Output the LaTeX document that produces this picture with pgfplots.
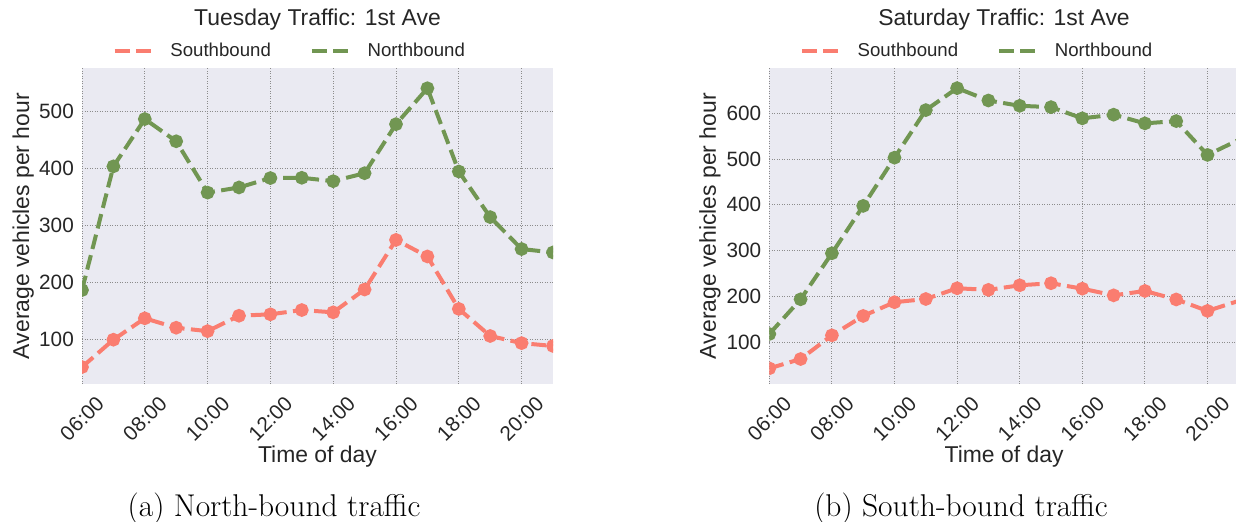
\documentclass[border=0pt]{standalone}
\usepackage{graphicx}
\usepackage{pgfplots}
\pgfplotsset{compat=1.18}
\usepackage{fontspec}
\newfontfamily\arial{Liberation Sans}
\definecolor{sred}{RGB}{250,125,112}
\definecolor{sgreen}{RGB}{113,150,82}
\definecolor{bg}{RGB}{234,234,242}
\definecolor{txt}{RGB}{38,38,38}

\pgfplotstableread{
t south north
6 52 187
7 100 404
8 137.5 487
9 121 448
10 115 358
11 142 367
12 144.5 383.5
13 152 384
14 148 378
15 188 392
16 275 478
17 246 541
18 154 395
19 106.5 315
20 94 259
21 89 253
}\tuesday

\pgfplotstableread{
t south north
6 42.4 117.5
7 62.8 193.4
8 114.6 294
9 157 397.6
10 187 503
11 194 607
12 217.5 655
13 214 628
14 224 616.4
15 228.5 613.5
16 216.6 589
17 202 597
18 211.6 578
19 193 583
20 168 509
21 190 542
}\saturday

\pgfplotsset{
 trafficstyle/.style={
  scale only axis,
  anchor=south west,
  xmin=6,
  xtick={6,8,...,20},
  xticklabels={\rotatebox{45}{06:00},\rotatebox{45}{08:00},\rotatebox{45}{10:00},\rotatebox{45}{12:00},\rotatebox{45}{14:00},\rotatebox{45}{16:00},\rotatebox{45}{18:00},\rotatebox{45}{20:00}},
  axis background/.style={fill=bg},
  axis line style={draw=none},
  major tick length=0pt,
  grid=major,
  grid style={black!45, line width=0.9bp, dash pattern=on 0.9bp off 1.6bp},
  tick label style={font=\arial\fontsize{20.8}{24}\selectfont, text=txt},
  /pgf/number format/assume math mode=true,
  xticklabel style={anchor=north, inner sep=0pt, yshift=-11bp},
  yticklabel style={anchor=east, inner sep=0pt, xshift=-8bp},
  label style={font=\arial\fontsize{23}{27}\selectfont, text=txt},
  title style={font=\arial\fontsize{23}{27}\selectfont, text=txt, anchor=base, yshift=0pt},
  xlabel={Time of day},
  ylabel={Average vehicles per hour},
  ylabel style={anchor=center},
  xlabel style={anchor=center},
  clip marker paths=true,
  legend style={anchor=west, draw=none, fill=none, legend columns=2,
    inner sep=0pt, outer sep=0pt,
    font=\arial\fontsize{18.7}{22}\selectfont, text=txt,
    nodes={inner sep=0pt},
    /tikz/every odd column/.append style={column sep=17.7bp},
    /tikz/every even column/.append style={column sep=39bp}},
  legend image code/.code={\draw[#1,mark=none] (0bp,0bp) -- (36bp,0bp);},
  every axis plot/.append style={line width=4bp, dash pattern=on 14.8bp off 6.4bp,
    mark=*, mark size=4.8bp, mark options={solid}},
 }
}

\begin{document}
\begin{tikzpicture}
\useasboundingbox (0,0) rectangle (1236bp,522bp);
\begin{axis}[trafficstyle,
  at={(82bp,138bp)}, width=471bp, height=315.7bp,
  xmax=21, ymin=22.3, ymax=576, ytick={100,200,...,500},
  title={Tuesday Traffic: 1st Ave},
  title style={at={(rel axis cs:0.5,1.118)}},
  xlabel style={at={(rel axis cs:0.5,-0.231)}},
  ylabel style={at={(rel axis cs:-0.125,0.5)}},
  legend style={at={(rel axis cs:0.0652,1.055)}},
]
\addplot[color=sred] table[x=t,y=south] {\tuesday};
\addlegendentry{Southbound}
\addplot[color=sgreen] table[x=t,y=north] {\tuesday};
\addlegendentry{Northbound}
\end{axis}

\begin{axis}[trafficstyle,
  at={(769.3bp,138bp)}, width=466.7bp, height=315.7bp,
  xmax=20.91, ymin=8.2, ymax=698.4, ytick={100,200,...,600},
  title={Saturday Traffic: 1st Ave},
  title style={at={(rel axis cs:0.503,1.118)}},
  xlabel style={at={(rel axis cs:0.503,-0.231)}},
  ylabel style={at={(rel axis cs:-0.127,0.5)}},
  legend style={at={(rel axis cs:0.0658,1.055)}},
]
\addplot[color=sred] table[x=t,y=south] {\saturday};
\addlegendentry{Southbound}
\addplot[color=sgreen] table[x=t,y=north] {\saturday};
\addlegendentry{Northbound}
\end{axis}

\node[anchor=base, font=\fontsize{31.6}{36}\selectfont] at (274bp,5.3bp) {(a) North-bound traffic};
\node[anchor=base, font=\fontsize{31.6}{36}\selectfont] at (961bp,5.3bp) {(b) South-bound traffic};
\end{tikzpicture}
\end{document}
